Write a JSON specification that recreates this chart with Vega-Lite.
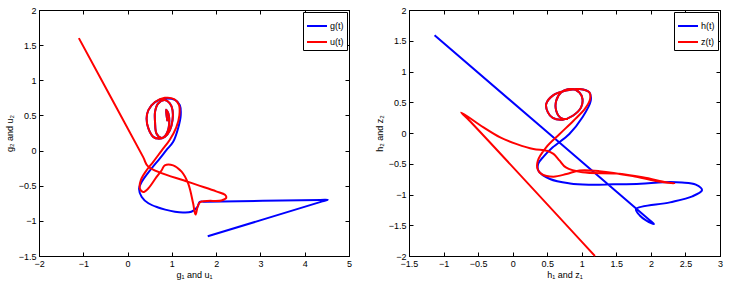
{
  "$schema": "https://vega.github.io/schema/vega-lite/v6.json",
  "padding": {"left": 4, "top": 5, "right": 5, "bottom": 2},
  "bounds": "flush",
  "spacing": 60,
  "background": "white",
  "config": {
    "font": "Liberation Sans",
    "view": {"stroke": "black", "strokeWidth": 1},
    "line": {"interpolate": "catmull-rom", "strokeWidth": 2, "clip": true},
    "axis": {"grid": false, "domainColor": "black", "tickColor": "black", "labelColor": "black", "titleColor": "black", "labelFontSize": 9, "titleFontSize": 9, "titleFontWeight": "normal", "tickSize": -4, "labelPadding": 7, "format": "~g", "labelFlush": false, "labelOverlap": false},
    "legend": {"orient": "top-right", "offset": 2, "strokeColor": "black", "fillColor": "white", "padding": 3, "symbolType": "stroke", "symbolSize": 400, "symbolStrokeWidth": 2, "labelFontSize": 9, "labelColor": "black", "rowPadding": 0, "labelOffset": 2, "title": null}
  },
  "datasets": {
    "pts": [
      {"p":"A","s":"g(t)","i":1,"x":1.81,"y":-1.22},
      {"p":"A","s":"g(t)","i":2,"x":4.40,"y":-0.723},
      {"p":"A","s":"g(t)","i":3,"x":4.52,"y":-0.70},
      {"p":"A","s":"g(t)","i":4,"x":4.35,"y":-0.702},
      {"p":"A","s":"g(t)","i":5,"x":1.75,"y":-0.729},
      {"p":"A","s":"g(t)","i":6,"x":1.63,"y":-0.73},
      {"p":"A","s":"g(t)","i":7,"x":1.58,"y":-0.80},
      {"p":"A","s":"g(t)","i":8,"x":1.44,"y":-0.87},
      {"p":"A","s":"g(t)","i":9,"x":1.25,"y":-0.88},
      {"p":"A","s":"g(t)","i":10,"x":1.07,"y":-0.87},
      {"p":"A","s":"g(t)","i":11,"x":0.85,"y":-0.84},
      {"p":"A","s":"g(t)","i":12,"x":0.69,"y":-0.81},
      {"p":"A","s":"g(t)","i":13,"x":0.47,"y":-0.75},
      {"p":"A","s":"g(t)","i":14,"x":0.32,"y":-0.66},
      {"p":"A","s":"g(t)","i":15,"x":0.26,"y":-0.54},
      {"p":"A","s":"g(t)","i":16,"x":0.32,"y":-0.445},
      {"p":"A","s":"g(t)","i":17,"x":0.54,"y":-0.255},
      {"p":"A","s":"g(t)","i":18,"x":0.73,"y":-0.11},
      {"p":"A","s":"g(t)","i":19,"x":0.88,"y":0.01},
      {"p":"A","s":"g(t)","i":20,"x":1.03,"y":0.124},
      {"p":"A","s":"g(t)","i":21,"x":1.14,"y":0.315},
      {"p":"A","s":"g(t)","i":22,"x":1.20,"y":0.50},
      {"p":"A","s":"g(t)","i":23,"x":1.18,"y":0.647},
      {"p":"A","s":"g(t)","i":24,"x":1.07,"y":0.72},
      {"p":"A","s":"g(t)","i":25,"x":0.84,"y":0.74},
      {"p":"A","s":"g(t)","i":26,"x":0.62,"y":0.69},
      {"p":"A","s":"g(t)","i":27,"x":0.47,"y":0.575},
      {"p":"A","s":"g(t)","i":28,"x":0.43,"y":0.457},
      {"p":"A","s":"g(t)","i":29,"x":0.47,"y":0.315},
      {"p":"A","s":"g(t)","i":30,"x":0.58,"y":0.195},
      {"p":"A","s":"g(t)","i":31,"x":0.69,"y":0.17},
      {"p":"A","s":"g(t)","i":32,"x":0.84,"y":0.195},
      {"p":"A","s":"g(t)","i":33,"x":0.955,"y":0.29},
      {"p":"A","s":"g(t)","i":34,"x":1.015,"y":0.433},
      {"p":"A","s":"g(t)","i":35,"x":1.015,"y":0.575},
      {"p":"A","s":"g(t)","i":36,"x":0.955,"y":0.67},
      {"p":"A","s":"g(t)","i":37,"x":0.84,"y":0.72},
      {"p":"A","s":"g(t)","i":38,"x":0.69,"y":0.67},
      {"p":"A","s":"g(t)","i":39,"x":0.62,"y":0.55},
      {"p":"A","s":"g(t)","i":40,"x":0.62,"y":0.41},
      {"p":"A","s":"g(t)","i":41,"x":0.655,"y":0.24},
      {"p":"A","s":"g(t)","i":42,"x":0.77,"y":0.18},
      {"p":"A","s":"g(t)","i":43,"x":0.88,"y":0.24},
      {"p":"A","s":"g(t)","i":44,"x":0.94,"y":0.385},
      {"p":"A","s":"g(t)","i":45,"x":0.92,"y":0.53},
      {"p":"A","s":"g(t)","i":46,"x":0.87,"y":0.58},
      {"p":"A","s":"g(t)","i":47,"x":0.90,"y":0.42},

      {"p":"A","s":"u(t)","i":1,"x":-1.10,"y":1.60},
      {"p":"A","s":"u(t)","i":2,"x":0.35,"y":-0.09},
      {"p":"A","s":"u(t)","i":3,"x":0.47,"y":-0.23},
      {"p":"A","s":"u(t)","i":4,"x":1.37,"y":-0.446},
      {"p":"A","s":"u(t)","i":5,"x":2.0,"y":-0.58},
      {"p":"A","s":"u(t)","i":6,"x":2.2,"y":-0.63},
      {"p":"A","s":"u(t)","i":7,"x":2.23,"y":-0.67},
      {"p":"A","s":"u(t)","i":8,"x":2.12,"y":-0.71},
      {"p":"A","s":"u(t)","i":9,"x":1.63,"y":-0.74},
      {"p":"A","s":"u(t)","i":10,"x":1.535,"y":-0.91},
      {"p":"A","s":"u(t)","i":11,"x":1.48,"y":-0.75},
      {"p":"A","s":"u(t)","i":12,"x":1.37,"y":-0.47},
      {"p":"A","s":"u(t)","i":13,"x":1.22,"y":-0.30},
      {"p":"A","s":"u(t)","i":14,"x":1.03,"y":-0.21},
      {"p":"A","s":"u(t)","i":15,"x":0.84,"y":-0.21},
      {"p":"A","s":"u(t)","i":16,"x":0.77,"y":-0.28},
      {"p":"A","s":"u(t)","i":17,"x":0.655,"y":-0.375},
      {"p":"A","s":"u(t)","i":18,"x":0.466,"y":-0.54},
      {"p":"A","s":"u(t)","i":19,"x":0.353,"y":-0.59},
      {"p":"A","s":"u(t)","i":20,"x":0.278,"y":-0.54},
      {"p":"A","s":"u(t)","i":21,"x":0.30,"y":-0.42},
      {"p":"A","s":"u(t)","i":22,"x":0.43,"y":-0.28},
      {"p":"A","s":"u(t)","i":23,"x":0.58,"y":-0.16},
      {"p":"A","s":"u(t)","i":24,"x":0.77,"y":0.0},
      {"p":"A","s":"u(t)","i":25,"x":0.95,"y":0.15},
      {"p":"A","s":"u(t)","i":26,"x":1.10,"y":0.33},
      {"p":"A","s":"u(t)","i":27,"x":1.17,"y":0.50},
      {"p":"A","s":"u(t)","i":28,"x":1.16,"y":0.65},
      {"p":"A","s":"u(t)","i":29,"x":1.06,"y":0.73},
      {"p":"A","s":"u(t)","i":30,"x":0.84,"y":0.75},
      {"p":"A","s":"u(t)","i":31,"x":0.62,"y":0.69},
      {"p":"A","s":"u(t)","i":32,"x":0.47,"y":0.575},
      {"p":"A","s":"u(t)","i":33,"x":0.43,"y":0.457},
      {"p":"A","s":"u(t)","i":34,"x":0.47,"y":0.315},
      {"p":"A","s":"u(t)","i":35,"x":0.58,"y":0.195},
      {"p":"A","s":"u(t)","i":36,"x":0.69,"y":0.17},
      {"p":"A","s":"u(t)","i":37,"x":0.84,"y":0.195},
      {"p":"A","s":"u(t)","i":38,"x":0.955,"y":0.29},
      {"p":"A","s":"u(t)","i":39,"x":1.015,"y":0.433},
      {"p":"A","s":"u(t)","i":40,"x":1.015,"y":0.575},
      {"p":"A","s":"u(t)","i":41,"x":0.955,"y":0.67},
      {"p":"A","s":"u(t)","i":42,"x":0.84,"y":0.72},
      {"p":"A","s":"u(t)","i":43,"x":0.69,"y":0.67},
      {"p":"A","s":"u(t)","i":44,"x":0.62,"y":0.55},
      {"p":"A","s":"u(t)","i":45,"x":0.62,"y":0.41},
      {"p":"A","s":"u(t)","i":46,"x":0.655,"y":0.24},
      {"p":"A","s":"u(t)","i":47,"x":0.77,"y":0.18},
      {"p":"A","s":"u(t)","i":48,"x":0.88,"y":0.24},
      {"p":"A","s":"u(t)","i":49,"x":0.94,"y":0.385},
      {"p":"A","s":"u(t)","i":50,"x":0.92,"y":0.53},
      {"p":"A","s":"u(t)","i":51,"x":0.87,"y":0.58},
      {"p":"A","s":"u(t)","i":52,"x":0.90,"y":0.42},

      {"p":"B","s":"h(t)","i":1,"x":-1.13,"y":1.59},
      {"p":"B","s":"h(t)","i":2,"x":1.95,"y":-1.388},
      {"p":"B","s":"h(t)","i":3,"x":2.045,"y":-1.48},
      {"p":"B","s":"h(t)","i":4,"x":1.93,"y":-1.42},
      {"p":"B","s":"h(t)","i":5,"x":1.843,"y":-1.345},
      {"p":"B","s":"h(t)","i":6,"x":1.785,"y":-1.236},
      {"p":"B","s":"h(t)","i":7,"x":2.276,"y":-1.128},
      {"p":"B","s":"h(t)","i":8,"x":2.60,"y":-1.03},
      {"p":"B","s":"h(t)","i":9,"x":2.74,"y":-0.93},
      {"p":"B","s":"h(t)","i":10,"x":2.65,"y":-0.84},
      {"p":"B","s":"h(t)","i":11,"x":2.45,"y":-0.805},
      {"p":"B","s":"h(t)","i":12,"x":2.18,"y":-0.80},
      {"p":"B","s":"h(t)","i":13,"x":1.85,"y":-0.825},
      {"p":"B","s":"h(t)","i":14,"x":1.457,"y":-0.835},
      {"p":"B","s":"h(t)","i":15,"x":1.1,"y":-0.84},
      {"p":"B","s":"h(t)","i":16,"x":0.83,"y":-0.82},
      {"p":"B","s":"h(t)","i":17,"x":0.54,"y":-0.748},
      {"p":"B","s":"h(t)","i":18,"x":0.373,"y":-0.613},
      {"p":"B","s":"h(t)","i":19,"x":0.37,"y":-0.50},
      {"p":"B","s":"h(t)","i":20,"x":0.45,"y":-0.38},
      {"p":"B","s":"h(t)","i":21,"x":0.58,"y":-0.233},
      {"p":"B","s":"h(t)","i":22,"x":0.82,"y":-0.016},
      {"p":"B","s":"h(t)","i":23,"x":1.01,"y":0.255},
      {"p":"B","s":"h(t)","i":24,"x":1.13,"y":0.526},
      {"p":"B","s":"h(t)","i":25,"x":1.11,"y":0.66},
      {"p":"B","s":"h(t)","i":26,"x":0.966,"y":0.715},
      {"p":"B","s":"h(t)","i":27,"x":0.77,"y":0.69},
      {"p":"B","s":"h(t)","i":28,"x":0.58,"y":0.607},
      {"p":"B","s":"h(t)","i":29,"x":0.485,"y":0.47},
      {"p":"B","s":"h(t)","i":30,"x":0.51,"y":0.336},
      {"p":"B","s":"h(t)","i":31,"x":0.58,"y":0.244},
      {"p":"B","s":"h(t)","i":32,"x":0.725,"y":0.217},
      {"p":"B","s":"h(t)","i":33,"x":0.87,"y":0.28},
      {"p":"B","s":"h(t)","i":34,"x":0.99,"y":0.417},
      {"p":"B","s":"h(t)","i":35,"x":1.01,"y":0.553},
      {"p":"B","s":"h(t)","i":36,"x":0.966,"y":0.66},
      {"p":"B","s":"h(t)","i":37,"x":0.845,"y":0.715},
      {"p":"B","s":"h(t)","i":38,"x":0.70,"y":0.66},
      {"p":"B","s":"h(t)","i":39,"x":0.63,"y":0.526},
      {"p":"B","s":"h(t)","i":40,"x":0.63,"y":0.363},
      {"p":"B","s":"h(t)","i":41,"x":0.70,"y":0.244},
      {"p":"B","s":"h(t)","i":42,"x":0.80,"y":0.228},

      {"p":"B","s":"z(t)","i":1,"x":1.19,"y":-2.0},
      {"p":"B","s":"z(t)","i":2,"x":-0.62,"y":0.195},
      {"p":"B","s":"z(t)","i":3,"x":-0.744,"y":0.335},
      {"p":"B","s":"z(t)","i":5,"x":-0.422,"y":0.091},
      {"p":"B","s":"z(t)","i":6,"x":-0.18,"y":-0.072},
      {"p":"B","s":"z(t)","i":7,"x":0.06,"y":-0.18},
      {"p":"B","s":"z(t)","i":8,"x":0.30,"y":-0.26},
      {"p":"B","s":"z(t)","i":9,"x":0.494,"y":-0.288},
      {"p":"B","s":"z(t)","i":10,"x":0.59,"y":-0.34},
      {"p":"B","s":"z(t)","i":11,"x":0.68,"y":-0.45},
      {"p":"B","s":"z(t)","i":12,"x":0.77,"y":-0.56},
      {"p":"B","s":"z(t)","i":13,"x":1.01,"y":-0.64},
      {"p":"B","s":"z(t)","i":14,"x":1.50,"y":-0.66},
      {"p":"B","s":"z(t)","i":15,"x":1.88,"y":-0.72},
      {"p":"B","s":"z(t)","i":16,"x":2.22,"y":-0.80},
      {"p":"B","s":"z(t)","i":17,"x":2.34,"y":-0.82},
      {"p":"B","s":"z(t)","i":18,"x":2.07,"y":-0.78},
      {"p":"B","s":"z(t)","i":19,"x":1.737,"y":-0.70},
      {"p":"B","s":"z(t)","i":20,"x":1.255,"y":-0.62},
      {"p":"B","s":"z(t)","i":21,"x":0.966,"y":-0.61},
      {"p":"B","s":"z(t)","i":22,"x":0.78,"y":-0.667},
      {"p":"B","s":"z(t)","i":23,"x":0.59,"y":-0.71},
      {"p":"B","s":"z(t)","i":24,"x":0.42,"y":-0.67},
      {"p":"B","s":"z(t)","i":25,"x":0.36,"y":-0.585},
      {"p":"B","s":"z(t)","i":26,"x":0.364,"y":-0.45},
      {"p":"B","s":"z(t)","i":27,"x":0.485,"y":-0.233},
      {"p":"B","s":"z(t)","i":28,"x":0.68,"y":-0.016},
      {"p":"B","s":"z(t)","i":29,"x":0.88,"y":0.2},
      {"p":"B","s":"z(t)","i":30,"x":1.05,"y":0.4},
      {"p":"B","s":"z(t)","i":31,"x":1.12,"y":0.55},
      {"p":"B","s":"z(t)","i":32,"x":1.11,"y":0.66},
      {"p":"B","s":"z(t)","i":33,"x":0.966,"y":0.715},
      {"p":"B","s":"z(t)","i":34,"x":0.77,"y":0.69},
      {"p":"B","s":"z(t)","i":35,"x":0.58,"y":0.607},
      {"p":"B","s":"z(t)","i":36,"x":0.485,"y":0.47},
      {"p":"B","s":"z(t)","i":37,"x":0.51,"y":0.336},
      {"p":"B","s":"z(t)","i":38,"x":0.58,"y":0.244},
      {"p":"B","s":"z(t)","i":39,"x":0.725,"y":0.217},
      {"p":"B","s":"z(t)","i":40,"x":0.87,"y":0.28},
      {"p":"B","s":"z(t)","i":41,"x":0.99,"y":0.417},
      {"p":"B","s":"z(t)","i":42,"x":1.01,"y":0.553},
      {"p":"B","s":"z(t)","i":43,"x":0.966,"y":0.66},
      {"p":"B","s":"z(t)","i":44,"x":0.845,"y":0.715},
      {"p":"B","s":"z(t)","i":45,"x":0.70,"y":0.66},
      {"p":"B","s":"z(t)","i":46,"x":0.63,"y":0.526},
      {"p":"B","s":"z(t)","i":47,"x":0.63,"y":0.363},
      {"p":"B","s":"z(t)","i":48,"x":0.70,"y":0.244},
      {"p":"B","s":"z(t)","i":49,"x":0.80,"y":0.228}
    ]
  },
  "data": {"name": "pts"},
  "resolve": {"scale": {"color": "independent"}},
  "hconcat": [
    {
      "width": 310, "height": 246,
      "transform": [{"filter": "datum.p == 'A'"}],
      "resolve": {"axis": {"x": "independent", "y": "independent"}},
      "layer": [
        {
          "transform": [{"filter": "datum.s == 'g(t)'"}],
          "mark": {"type": "line"},
          "encoding": {
            "x": {"field": "x", "type": "quantitative", "scale": {"domain": [-2, 5], "nice": false, "zero": false}, "axis": {"orient": "bottom", "values": [-2,-1,0,1,2,3,4,5], "title": "g₁ and u₁", "titlePadding": 2}},
            "y": {"field": "y", "type": "quantitative", "scale": {"domain": [-1.5, 2], "nice": false, "zero": false}, "axis": {"orient": "left", "values": [-1.5,-1,-0.5,0,0.5,1,1.5,2], "title": "g₂ and u₂", "titlePadding": 4}},
            "order": {"field": "i", "type": "quantitative"},
            "color": {"field": "s", "type": "nominal", "scale": {"domain": ["g(t)", "u(t)"], "range": ["#0000ff", "#ff0000"]}}
          }
        },
        {
          "transform": [{"filter": "datum.s == 'u(t)'"}],
          "mark": {"type": "line"},
          "encoding": {
            "x": {"field": "x", "type": "quantitative", "scale": {"domain": [-2, 5], "nice": false, "zero": false}, "axis": {"orient": "top", "values": [-2,-1,0,1,2,3,4,5], "labels": false, "title": null}},
            "y": {"field": "y", "type": "quantitative", "scale": {"domain": [-1.5, 2], "nice": false, "zero": false}, "axis": {"orient": "right", "values": [-1.5,-1,-0.5,0,0.5,1,1.5,2], "labels": false, "title": null}},
            "order": {"field": "i", "type": "quantitative"},
            "color": {"field": "s", "type": "nominal", "scale": {"domain": ["g(t)", "u(t)"], "range": ["#0000ff", "#ff0000"]}}
          }
        }
      ]
    },
    {
      "width": 311, "height": 246,
      "transform": [{"filter": "datum.p == 'B'"}],
      "resolve": {"axis": {"x": "independent", "y": "independent"}},
      "layer": [
        {
          "transform": [{"filter": "datum.s == 'h(t)'"}],
          "mark": {"type": "line"},
          "encoding": {
            "x": {"field": "x", "type": "quantitative", "scale": {"domain": [-1.5, 3], "nice": false, "zero": false}, "axis": {"orient": "bottom", "values": [-1.5,-1,-0.5,0,0.5,1,1.5,2,2.5,3], "title": "h₁ and z₁", "titlePadding": 2}},
            "y": {"field": "y", "type": "quantitative", "scale": {"domain": [-2, 2], "nice": false, "zero": false}, "axis": {"orient": "left", "values": [-2,-1.5,-1,-0.5,0,0.5,1,1.5,2], "title": "h₂ and z₂", "titlePadding": 4}},
            "order": {"field": "i", "type": "quantitative"},
            "color": {"field": "s", "type": "nominal", "scale": {"domain": ["h(t)", "z(t)"], "range": ["#0000ff", "#ff0000"]}}
          }
        },
        {
          "transform": [{"filter": "datum.s == 'z(t)'"}],
          "mark": {"type": "line"},
          "encoding": {
            "x": {"field": "x", "type": "quantitative", "scale": {"domain": [-1.5, 3], "nice": false, "zero": false}, "axis": {"orient": "top", "values": [-1.5,-1,-0.5,0,0.5,1,1.5,2,2.5,3], "labels": false, "title": null}},
            "y": {"field": "y", "type": "quantitative", "scale": {"domain": [-2, 2], "nice": false, "zero": false}, "axis": {"orient": "right", "values": [-2,-1.5,-1,-0.5,0,0.5,1,1.5,2], "labels": false, "title": null}},
            "order": {"field": "i", "type": "quantitative"},
            "color": {"field": "s", "type": "nominal", "scale": {"domain": ["h(t)", "z(t)"], "range": ["#0000ff", "#ff0000"]}}
          }
        }
      ]
    }
  ]
}
